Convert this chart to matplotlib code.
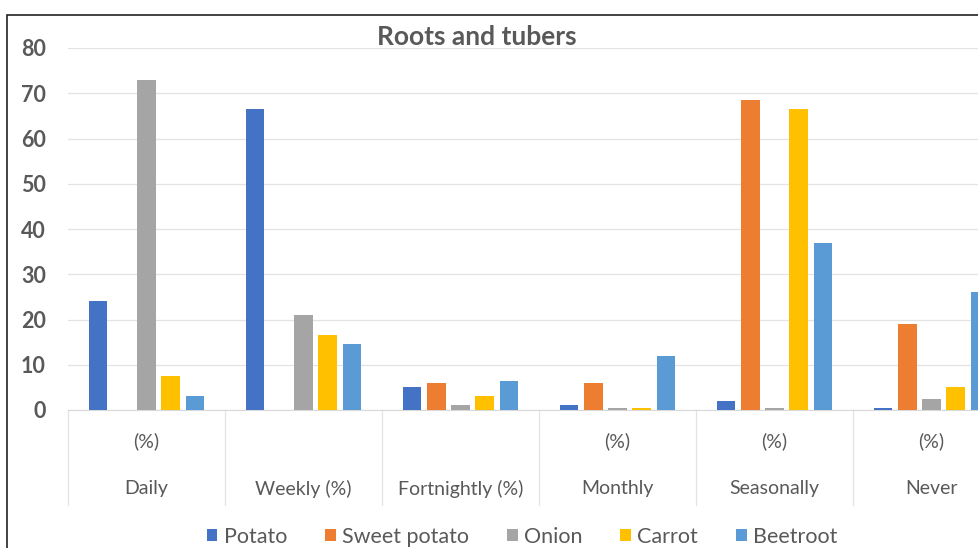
import numpy as np
import matplotlib; matplotlib.use("Agg")
import matplotlib.pyplot as plt
from matplotlib.patches import Rectangle

plt.rcParams["font.family"] = ["Lato", "DejaVu Sans"]

# ─── Data (percent of respondents) ───────────────────────────────────────────
groups_top = ["(%)", "", "", "(%)", "(%)", "(%)"]
groups_bot = ["Daily", "Weekly (%)", "Fortnightly (%)", "Monthly", "Seasonally", "Never"]
series     = ["Potato", "Sweet potato", "Onion", "Carrot", "Beetroot"]
potato     = [24, 66.5, 5, 1, 2, 0.5]
sweet      = [0, 0, 6, 6, 68.5, 19]
onion      = [73, 21, 1, 0.5, 0.5, 2.5]
carrot     = [7.5, 16.5, 3, 0.5, 66.5, 5]
beetroot   = [3, 14.5, 6.5, 12, 37, 26]
colors     = ["#4472C4", "#ED7D31", "#A5A5A5", "#FFC000", "#5B9BD5"]

W, H = 979, 548
txt = "#595959"
fig = plt.figure(figsize=(W/100, H/100), dpi=100)
# plot area runs past the right edge (reference image is cropped)
ax = fig.add_axes([68/W, 1-410/H, 942/W, 362/H])

x = np.arange(len(groups_bot))
step, bw = 0.153, 0.115
for i, (vals, name) in enumerate(zip([potato, sweet, onion, carrot, beetroot], series)):
    ax.bar(x + (i-2)*step, vals, bw, color=colors[i], label=name, zorder=3)

ax.set_xlim(-0.5, len(x)-0.5)
ax.set_ylim(0, 80)
ax.set_yticks(range(0, 81, 10))
ax.yaxis.grid(True, color="#E3E3E3", lw=0.9, zorder=0)
for s in ["top", "right", "left"]:
    ax.spines[s].set_visible(False)
ax.spines["bottom"].set_color("#D9D9D9")
ax.tick_params(axis="y", length=0, labelsize=15.5, labelcolor=txt, pad=16)
for lbl in ax.get_yticklabels():
    lbl.set_fontweight("bold")
ax.set_xticks([])

# two-line category labels with separators
tr = ax.get_xaxis_transform()
for b in np.arange(-0.5, len(x)):
    ax.plot([b, b], [0, -0.262], color="#E3E3E3", lw=0.9, transform=tr, clip_on=False)
for xi, t1, t2 in zip(x, groups_top, groups_bot):
    ax.text(xi, -0.086, t1, transform=tr, ha="center", va="center", fontsize=14, color=txt)
    ax.text(xi, -0.218, t2, transform=tr, ha="center", va="center", fontsize=14, color=txt)

fig.text(477/W, 1-37/H, "Roots and tubers", ha="center", va="center",
         fontsize=19, color=txt, fontweight="bold")

fig.legend(loc="center", bbox_to_anchor=(522/W, 1-537/H), ncol=5, frameon=False,
           fontsize=15.5, labelcolor=txt, handlelength=0.5, handleheight=0.5,
           handletextpad=0.3, columnspacing=1.75)

# outer frame of the source chart
fig.patches.append(Rectangle((7/W, -0.1), 1.2, 1.1-15/H, transform=fig.transFigure,
                             fill=False, edgecolor="#222222", lw=1.2))

fig.savefig("out.png", dpi=100)
plt.close(fig)
